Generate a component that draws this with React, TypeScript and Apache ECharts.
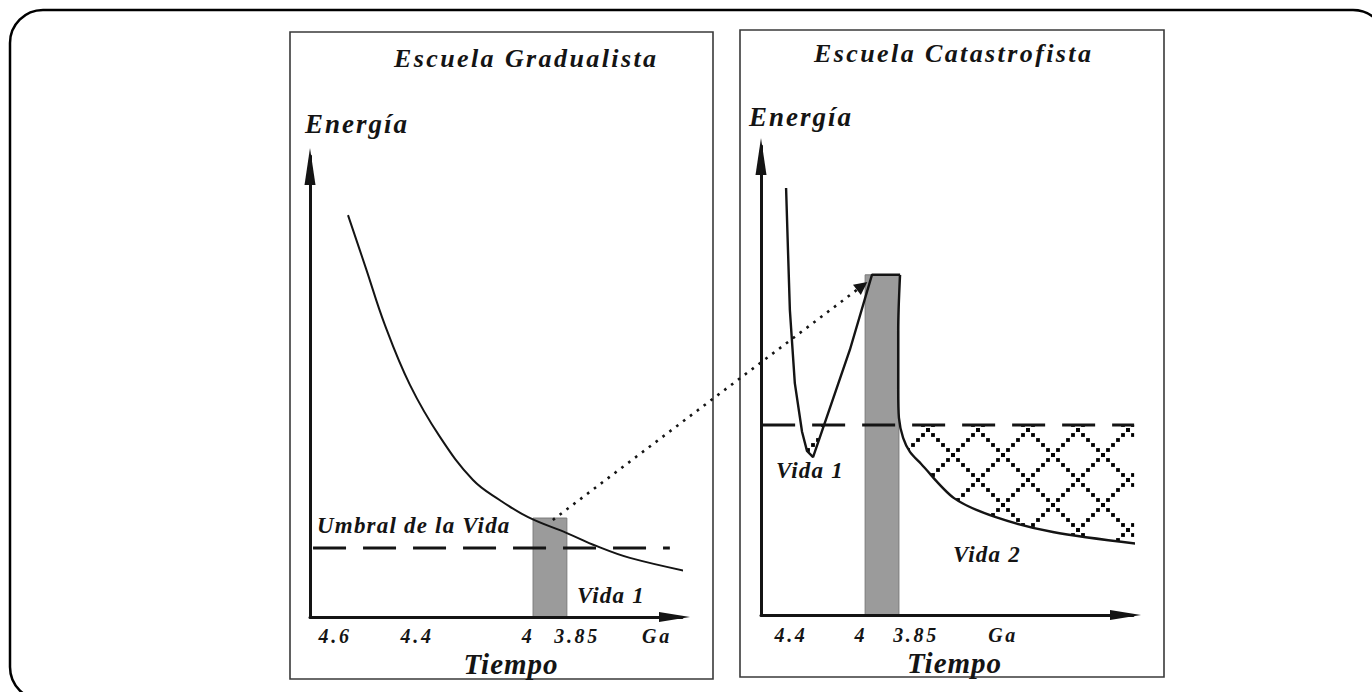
import React, { useEffect, useRef } from 'react';
import * as echarts from 'echarts';

const FONT = '"Liberation Serif", "Times New Roman", Times, serif';
const INK = '#141414';
const BAND = '#9b9b9b';

// ---------- Escuela Gradualista (left panel) — schematic units ----------
const leftTickValues = [6.6, 28.2, 57.4, 70.3, 91.3];
const leftTickLabels = ['4.6', '4.4', '4', '3.85', 'Ga'];
const leftEnergy = [
  [10.0, 85.7], [14.7, 74.4], [19.7, 62.3], [26.3, 49.5], [34.2, 38.4], [42.9, 29.2],
  [50.0, 24.9], [57.4, 21.3], [67.6, 17.9], [75.5, 15.1], [84.2, 12.6], [101.3, 9.4],
];
const leftBand = [[58.7, 67.6, 21.1]]; // [from, to, top]
const leftThreshold = [[0.8, 14.7], [94.7, 14.7]];
const linkArrow = [[63.9, 20.7], [145.3, 70.6]];

// ---------- Escuela Catastrofista (right panel) ----------
const rightTickValues = [7.9, 26.3, 40.8, 63.7];
const rightTickLabels = ['4.4', '4', '3.85', 'Ga'];
const rightSpike = [
  [6.6, 89.5], [7.1, 76.5], [7.6, 63.9], [8.9, 48.6], [10.8, 38.4], [12.1, 34.4],
  [13.7, 33.1], [23.4, 55.6], [29.2, 71.3], [36.6, 71.3],
];
const rightDecay = [
  [36.6, 71.3], [36.1, 59.7], [36.1, 47.2], [36.3, 41.3], [37.4, 37.1], [39.2, 34.2],
  [42.1, 31.7], [50.8, 24.5], [61.8, 20.5], [76.8, 17.4], [99.5, 14.9],
];
const rightBand = [[27.4, 36.3, 71.3]];
const rightThreshold = [[0.3, 39.8], [98.2, 39.8]];
const rightHatchDip = [[10.5, 39.8], [16.6, 39.8], [13.7, 33.1], [12.1, 34.4]];
const rightHatchMain = [
  [36.7, 39.8], [98.2, 39.8], [98.2, 15.0], [88.0, 16.1], [76.8, 17.4], [69.0, 18.8],
  [61.8, 20.5], [55.8, 22.4], [50.8, 24.5], [46.0, 27.8], [42.1, 31.4], [39.2, 34.2],
  [37.4, 37.1],
];

const X_MAX = 97.9;
const Y_MAX = 98.3;

const css = `
#diagram text[style*="26px"]{letter-spacing:2.4px}
#diagram text[style*="27px"]{letter-spacing:2px}
#diagram text[style*="29px"]{letter-spacing:1px}
#diagram text[style*="23px"]{letter-spacing:1.2px}
#diagram text[style*="20px"]{letter-spacing:2.7px}
`;

function makeHatch() {
  const c = document.createElement('canvas');
  c.width = 50;
  c.height = 50;
  const ctx = c.getContext('2d')!;
  ctx.fillStyle = '#000';
  for (let x = 3; x < 50; x += 5) {
    for (const y0 of [x + 2, 8 - x]) {
      const y = ((y0 % 50) + 50) % 50;
      for (const dx of [-50, 0, 50]) {
        for (const dy of [-50, 0, 50]) {
          ctx.fillRect(x - 1.9 + dx, y - 1.9 + dy, 3.8, 3.8);
        }
      }
    }
  }
  return c;
}

const textFont = { fontFamily: FONT, fontWeight: 'bold' as const, fontStyle: 'italic' as const, color: INK };

function xAxisFor(gridIndex: number, values: number[], labels: string[], margin: number, nameGap: number, padLeft: number) {
  return {
    type: 'value', gridIndex, min: 0, max: X_MAX, z: 5,
    axisLine: {
      show: true, onZero: false, symbol: ['none', 'triangle'], symbolSize: [10, 31], symbolOffset: [0, -7.5],
      lineStyle: { color: INK, width: 3 },
    },
    axisTick: { show: false },
    splitLine: { show: false },
    axisLabel: {
      show: true, customValues: values, margin, fontSize: 20, ...textFont,
      formatter: (v: number) => {
        const i = values.findIndex((t) => Math.abs(t - v) < 1e-6);
        return i >= 0 ? labels[i] : '';
      },
    },
    name: 'Tiempo', nameLocation: 'middle', nameGap, nameMoveOverlap: false,
    nameTextStyle: { fontSize: 29, ...textFont, padding: [0, 0, 0, padLeft] },
  };
}

function yAxisFor(gridIndex: number, nameGap: number, padLeft: number) {
  return {
    type: 'value', gridIndex, min: 0, max: Y_MAX, z: 5,
    axisLine: {
      show: true, onZero: false, symbol: ['none', 'triangle'], symbolSize: [11, 37], symbolOffset: [0, -10.5],
      lineStyle: { color: INK, width: 3 },
    },
    axisTick: { show: false },
    axisLabel: { show: false },
    splitLine: { show: false },
    name: 'Energía', nameLocation: 'end', nameGap, nameMoveOverlap: false,
    nameTextStyle: { fontSize: 27, ...textFont, align: 'left', padding: [0, 0, 0, padLeft] },
  };
}

function bandSeries(axis: number, data: number[][]) {
  return {
    type: 'custom', xAxisIndex: axis, yAxisIndex: axis, silent: true, clip: false, data,
    renderItem: (_p: any, api: any) => {
      const a = api.coord([api.value(0), api.value(2)]);
      const b = api.coord([api.value(1), 0]);
      return {
        type: 'rect',
        shape: { x: a[0], y: a[1], width: b[0] - a[0], height: b[1] - a[1] },
        style: { fill: BAND, stroke: '#7a7a7a', lineWidth: 1 },
      };
    },
  };
}

function hatchSeries(axis: number, poly: number[][], pattern: any) {
  return {
    type: 'custom', xAxisIndex: axis, yAxisIndex: axis, silent: true, clip: false, data: [poly[0]],
    renderItem: (_p: any, api: any) => ({
      type: 'polygon',
      shape: { points: poly.map((p) => api.coord(p)) },
      style: { fill: pattern, stroke: null },
    }),
  };
}

function lineSeries(axis: number, data: number[][], width: number, extra: any = {}) {
  return {
    type: 'line', xAxisIndex: axis, yAxisIndex: axis, data, symbol: 'none', showSymbol: false,
    silent: true, clip: false, lineStyle: { color: INK, width, ...(extra.lineStyle || {}) },
    smooth: extra.smooth ?? false,
  };
}

function label(text: string, x: number, y: number, size: number, align: string) {
  return {
    type: 'text', x, y, silent: true,
    style: {
      text, fill: INK, font: `italic bold ${size}px ${FONT}`,
      textAlign: align, textVerticalAlign: 'middle',
    },
  };
}

export default function App() {
  const ref = useRef<HTMLDivElement>(null);
  useEffect(() => {
    const chart = echarts.init(ref.current!, null, { renderer: 'svg' });
    const hatch = { image: makeHatch(), repeat: 'repeat', imageWidth: 50, imageHeight: 50 };
    chart.setOption({
      animation: false,
      backgroundColor: '#ffffff',
      textStyle: { fontFamily: FONT },
      grid: [
        { left: 310, top: 156, width: 372, height: 461, containLabel: false, outerBoundsMode: 'none' },
        { left: 761, top: 146, width: 372, height: 469, containLabel: false, outerBoundsMode: 'none' },
      ],
      xAxis: [
        xAxisFor(0, leftTickValues, leftTickLabels, 9, 32, 30),
        xAxisFor(1, rightTickValues, rightTickLabels, 10, 33, 15),
      ],
      yAxis: [yAxisFor(0, 18.5, -5), yAxisFor(1, 15.5, -12)],
      series: [
        bandSeries(0, leftBand),
        bandSeries(1, rightBand),
        hatchSeries(1, rightHatchMain, hatch),
        hatchSeries(1, rightHatchDip, hatch),
        lineSeries(0, leftThreshold, 3, { lineStyle: { type: [33, 17], cap: 'butt' } }),
        lineSeries(1, rightThreshold, 3, { lineStyle: { type: [33, 17], cap: 'butt' } }),
        lineSeries(0, leftEnergy, 2, { smooth: 0.4 }),
        lineSeries(1, rightSpike, 2.4),
        lineSeries(1, rightDecay, 2.4, { smooth: 0.3 }),
        {
          type: 'lines', coordinateSystem: 'cartesian2d', xAxisIndex: 0, yAxisIndex: 0,
          silent: true, clip: false, symbol: ['none', 'triangle'], symbolSize: [4, 13],
          lineStyle: { color: INK, width: 2.6, type: [2.6, 6], opacity: 1, cap: 'butt' },
          data: [{ coords: linkArrow }],
        },
      ],
      graphic: [
        {
          type: 'rect', silent: true, z: -1,
          shape: { x: 10, y: 10, width: 1376, height: 690, r: 33 },
          style: { fill: 'none', stroke: '#000', lineWidth: 2.5 },
        },
        {
          type: 'rect', silent: true,
          shape: { x: 290, y: 32, width: 423, height: 647 },
          style: { fill: 'none', stroke: '#3a3a3a', lineWidth: 1.6 },
        },
        {
          type: 'rect', silent: true,
          shape: { x: 740, y: 30, width: 424, height: 647 },
          style: { fill: 'none', stroke: '#3a3a3a', lineWidth: 1.6 },
        },
        label('Escuela Gradualista', 526.2, 58.2, 26, 'center'),
        label('Escuela Catastrofista', 953.7, 53.2, 26, 'center'),
        label('Umbral de la Vida', 317, 525.2, 23, 'left'),
        label('Vida 1', 577, 595.2, 23, 'left'),
        label('Vida 1', 776, 470.2, 23, 'left'),
        label('Vida 2', 953, 554.2, 23, 'left'),
      ],
    });
    return () => chart.dispose();
  }, []);
  return (
    <>
      <style>{css}</style>
      <div
        ref={ref}
        id="diagram"
        style={{ position: 'fixed', left: 0, top: 0, width: 1372, height: 692, background: '#fff' }}
      />
    </>
  );
}
